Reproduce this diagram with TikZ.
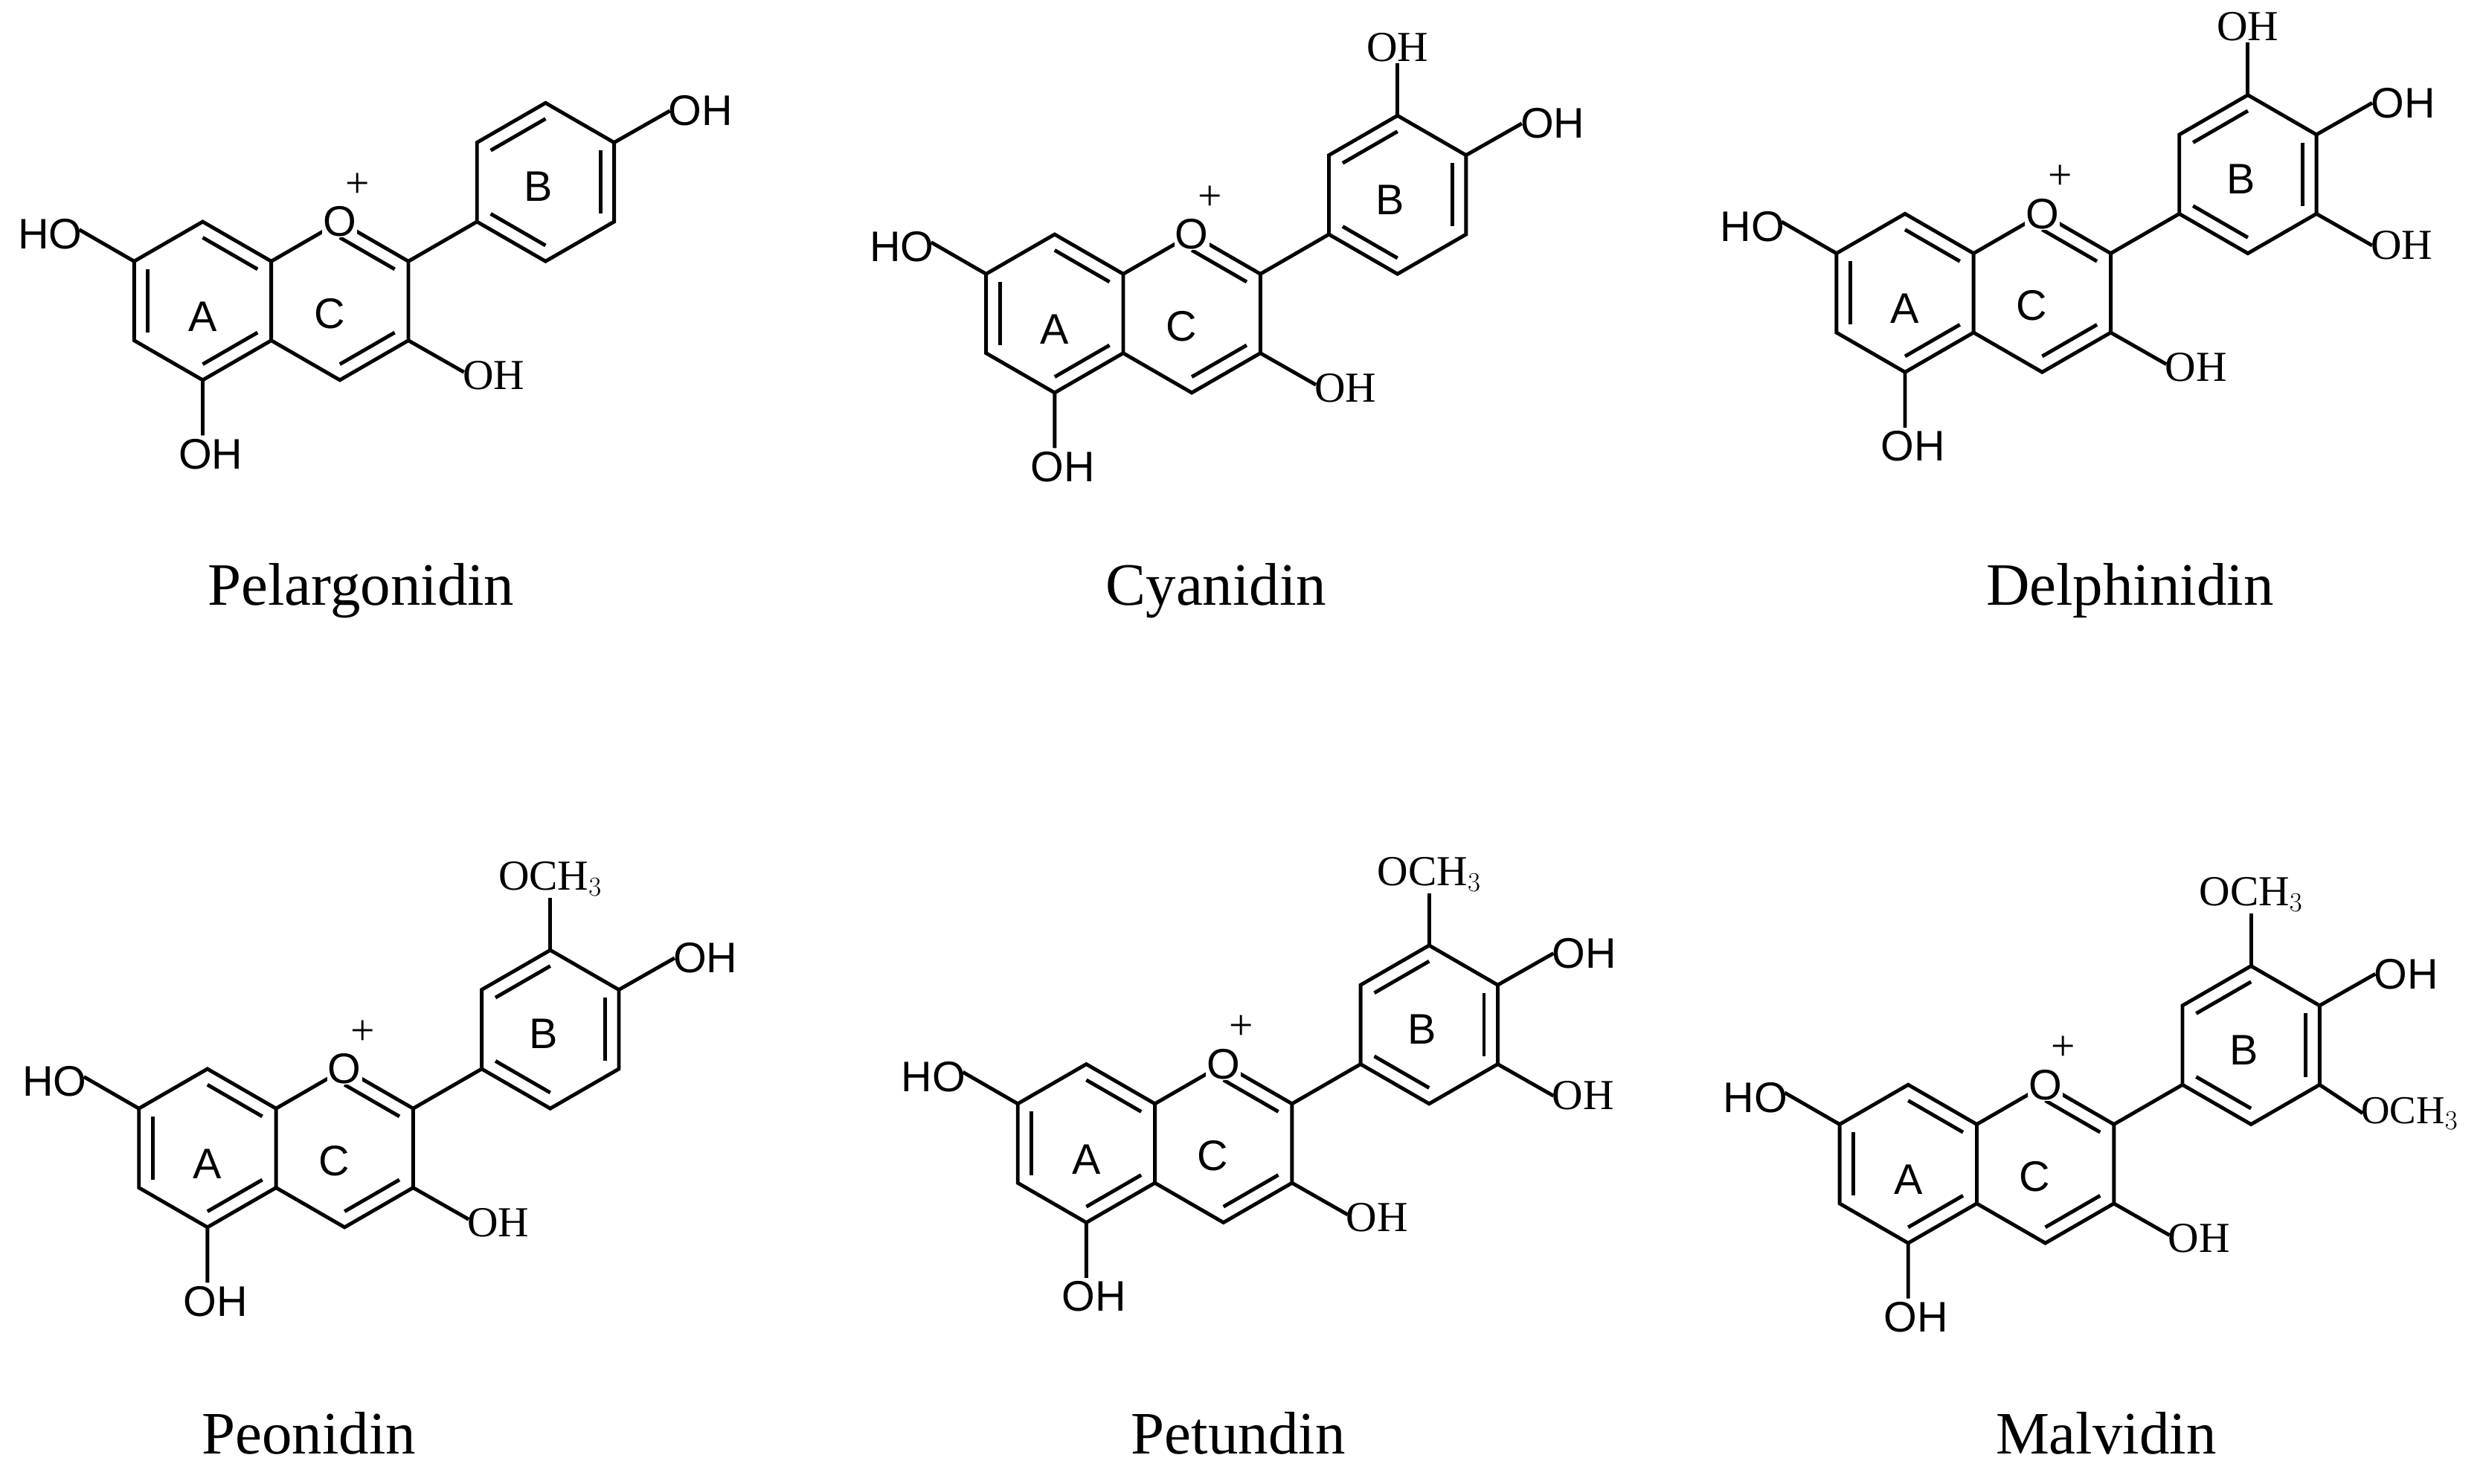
\documentclass[tikz,border=0pt]{standalone}
\usetikzlibrary{calc}
\usepackage{fontspec}
\setmainfont{Liberation Serif}
\newfontfamily\arial{Liberation Sans}
\tikzset{bond/.style={line width=2.3pt},
 sl/.style={font=\arial\fontsize{27}{27}\selectfont,inner sep=1pt},
 rl/.style={font=\fontsize{27}{27}\selectfont,inner sep=1pt},
 nm/.style={font=\fontsize{38}{38}\selectfont}}
\newcommand\dbl[3]{\draw[bond] ($(#1)!0.2!(#3)$) -- ($(#2)!0.2!(#3)$);}
\newcommand\skel{%
 \coordinate (a1) at (0,-50); \coordinate (a2) at (43.3,-25); \coordinate (a3) at (43.3,25);
 \coordinate (a4) at (0,50); \coordinate (a5) at (-43.3,25); \coordinate (a6) at (-43.3,-25);
 \coordinate (ca) at (0,0); \coordinate (cc) at (86.6,0); \coordinate (cb) at (216.5,-75);
 \coordinate (o) at (86.6,-50); \coordinate (c2) at (129.9,-25); \coordinate (c3) at (129.9,25); \coordinate (c4) at (86.6,50);
 \coordinate (b1) at (173.2,-50); \coordinate (b2) at (173.2,-100); \coordinate (b3) at (216.5,-125);
 \coordinate (b4) at (259.8,-100); \coordinate (b5) at (259.8,-50); \coordinate (b6) at (216.5,-25);
 \draw[bond] (a1)--(a2)--(a3)--(a4)--(a5)--(a6)--cycle;
 \draw[bond] (a2)--(o)--(c2)--(c3)--(c4)--(a3);
 \draw[bond] (c2)--(b1);
 \draw[bond] (b1)--(b2)--(b3)--(b4)--(b5)--(b6)--cycle;
 \dbl{a1}{a2}{ca}\dbl{a3}{a4}{ca}\dbl{a5}{a6}{ca}
 \dbl{o}{c2}{cc}\dbl{c3}{c4}{cc}
 \dbl{b2}{b3}{cb}\dbl{b4}{b5}{cb}\dbl{b6}{b1}{cb}
 \node[sl,fill=white,inner sep=0.5pt] (oo) at (o) {O};
 \node[rl] (plus) at (98,-73) {+};
 \node[sl] (la) at (0,10) {A}; \node[sl] (lc) at (80,8) {C}; \node[sl] (lb) at (212,-72) {B};
 \coordinate (s7) at (-78,-45); \coordinate (s5) at (0,85); \coordinate (s3) at (165,45);
 \draw[bond] (a6)--(s7) (a4)--(s5) (c3)--(s3);
 \node[sl,anchor=east] (t7) at ($(s7)+(3,3)$) {HO};
 \node[sl,anchor=north] (t5) at ($(s5)+(5,1)$) {OH};
 \node[rl,anchor=west] (t3) at ($(s3)+(-2,2)$) {OH};
 \coordinate (s3p) at (216.5,-158); \coordinate (s4p) at (295,-120); \coordinate (s5p) at (295,-30);}
\begin{document}
\begin{tikzpicture}[x=1pt,y=-1pt]
\useasboundingbox (0,0) rectangle (1568,937);
\begin{scope}[shift={(128,190)}]\skel
 \draw[bond] (b4)--(s4p); \node[sl,anchor=west] (u4) at ($(s4p)+(-2,0)$) {OH};
\end{scope}
\node[nm] (n1) at (228,373) {Pelargonidin};
\begin{scope}[shift={(666,198)}]\skel
 \draw[bond] (b4)--(s4p); \node[sl,anchor=west] (u4) at ($(s4p)+(-2,0)$) {OH};
 \draw[bond] (b3)--(s3p); \node[rl,anchor=south] (u3) at ($(s3p)+(0,0)$) {OH};
\end{scope}
\node[nm] (n2) at (768,373) {Cyanidin};
\begin{scope}[shift={(1203,185)}]\skel
 \draw[bond] (b4)--(s4p); \node[sl,anchor=west] (u4) at ($(s4p)+(-2,0)$) {OH};
 \draw[bond] (b3)--(s3p); \node[rl,anchor=south] (u3) at ($(s3p)+(0,0)$) {OH};
 \draw[bond] (b5)--(s5p); \node[rl,anchor=west] (u5) at ($(s5p)+(-2,0)$) {OH};
\end{scope}
\node[nm] (n3) at (1345,373) {Delphinidin};
\begin{scope}[shift={(131,725)}]\skel
 \draw[bond] (b4)--(s4p); \node[sl,anchor=west] (u4) at ($(s4p)+(-2,0)$) {OH};
 \draw[bond] (b3)--(s3p); \node[rl,anchor=south] (u3) at ($(s3p)+(0,0)$) {OCH$_3$};
\end{scope}
\node[nm] (n4) at (195,905) {Peonidin};
\begin{scope}[shift={(686,722)}]\skel
 \draw[bond] (b4)--(s4p); \node[sl,anchor=west] (u4) at ($(s4p)+(-2,0)$) {OH};
 \draw[bond] (b3)--(s3p); \node[rl,anchor=south] (u3) at ($(s3p)+(0,0)$) {OCH$_3$};
 \draw[bond] (b5)--(s5p); \node[rl,anchor=west] (u5) at ($(s5p)+(-2,0)$) {OH};
\end{scope}
\node[nm] (n5) at (782,905) {Petundin};
\begin{scope}[shift={(1205,735)}]\skel
 \coordinate (s5p) at (287,-32);
 \draw[bond] (b4)--(s4p); \node[sl,anchor=west] (u4) at ($(s4p)+(-2,0)$) {OH};
 \draw[bond] (b3)--(s3p); \node[rl,anchor=south] (u3) at ($(s3p)+(0,0)$) {OCH$_3$};
 \draw[bond] (b5)--(s5p); \node[rl,anchor=west,font=\fontsize{25}{25}\selectfont] (u5) at ($(s5p)+(-2,0)$) {OCH$_3$};
\end{scope}
\node[nm] (n6) at (1330,905) {Malvidin};
\end{tikzpicture}
\end{document}
